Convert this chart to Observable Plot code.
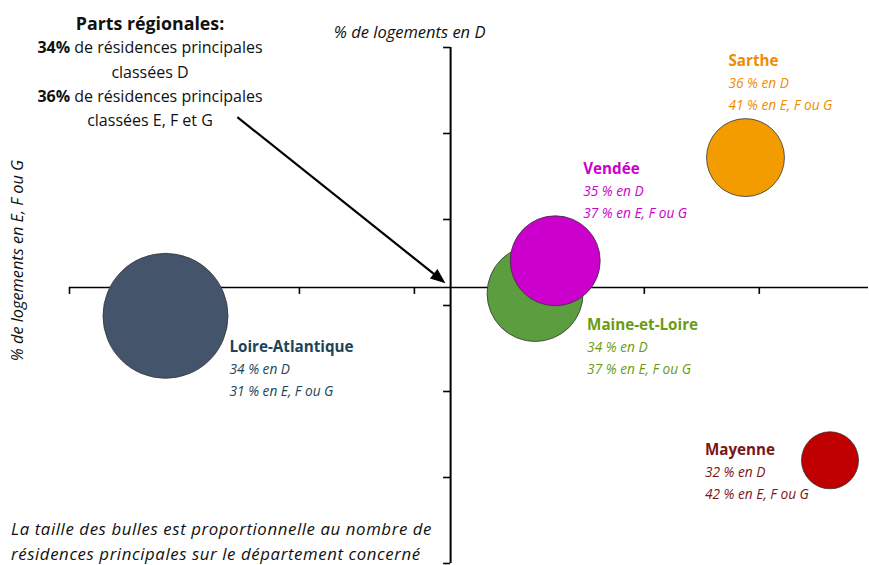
<!DOCTYPE html>
<html><head><meta charset="utf-8">
<script src="https://cdn.jsdelivr.net/npm/d3@7"></script>
<script src="https://cdn.jsdelivr.net/npm/@observablehq/plot@0.6"></script>
<style>
body{margin:0;background:#fff;font-family:"Open Sans",Lato,sans-serif;}
#wrap{position:relative;width:869px;height:565px;overflow:hidden;background:#fff;}
#box{position:absolute;left:10px;top:11px;width:280px;text-align:center;font-size:16px;line-height:24.3px;color:#111;}
#box .t{font-weight:bold;font-size:17.8px;}
#cap{position:absolute;left:11px;top:516px;font-style:italic;font-size:16.8px;letter-spacing:0.6px;line-height:25px;color:#111;white-space:nowrap;}
</style></head><body>
<div id="wrap"></div>
<script>
// ---- data ----
const departements = ["Loire-Atlantique", "Maine-et-Loire", "Vendée", "Sarthe", "Mayenne"];
const partEFG = [30.67, 37.10, 37.45, 40.76, 42.23];   // % de logements en E, F ou G
const partD   = [33.88, 34.14, 34.52, 35.72, 32.20];   // % de logements en D
const residences = [620, 366, 321, 241, 129];           // résidences principales (milliers)
const regionalEFG = 35.63;
const regionalD = 34.21;
const xTicks = [29, 31, 33, 35, 37, 39, 41];
const yTicks = [31, 32, 33, 34, 35, 36, 37];

// ---- styles ----
const fills = ["#44546a", "#5b9d3f", "#cc00cc", "#f29c00", "#c00000"];
const textColors = ["#1b4459", "#6a9c12", "#cc00cc", "#f08c00", "#7a1515"];
const labelDx = [64, 52, 28, -17, -125];
const labelDy = [31, 32, -92, -96, -10];

const W = 869, H = 565, mL = 69, mR = 1, mT = 47, mB = 2;
const xDomain = [29, 42.9], yDomain = [31, 37];
const kx = (W - mL - mR) / (xDomain[1] - xDomain[0]);
const ky = (H - mT - mB) / (yDomain[1] - yDomain[0]);

const rows = departements.map((name, i) => ({
  name, efg: partEFG[i], d: partD[i], res: residences[i], fill: fills[i], tc: textColors[i]
}));

// arrow (annotation) from the text box to the regional crossing point
const arrowFrom = {x: 31.92, y: 36.19};
const arrowTo = {x: 35.54, y: 34.26};
const pdx = (arrowTo.x - arrowFrom.x) * kx, pdy = -(arrowTo.y - arrowFrom.y) * ky;
const ang = Math.atan2(pdy, pdx), plen = Math.hypot(pdx, pdy);
const back = 10 / plen;
const arrowEnd = {x: arrowTo.x - (arrowTo.x - arrowFrom.x) * back, y: arrowTo.y - (arrowTo.y - arrowFrom.y) * back};
const headSymbol = {
  draw(ctx) {
    const c = Math.cos(ang), s = Math.sin(ang);
    const pts = [[0, 0], [-15, -6], [-15, 6]].map(([a, b]) => [a * c - b * s, a * s + b * c]);
    ctx.moveTo(pts[0][0], pts[0][1]);
    ctx.lineTo(pts[1][0], pts[1][1]);
    ctx.lineTo(pts[2][0], pts[2][1]);
    ctx.closePath();
  }
};

const FONT = "'Open Sans', Lato, sans-serif";
const tick = 7;
const marks = [
  Plot.ruleY([regionalD], {x1: xDomain[0], x2: xDomain[1], stroke: "#000", strokeWidth: 1.6}),
  Plot.ruleX(xTicks, {x: d => d, y1: regionalD, y2: regionalD - tick / ky, stroke: "#000", strokeWidth: 1.6}),
  Plot.ruleX([regionalEFG], {y1: yDomain[0], y2: yDomain[1], stroke: "#000", strokeWidth: 2}),
  Plot.ruleY(yTicks, {y: d => d, x1: regionalEFG - tick / kx, x2: regionalEFG, stroke: "#000", strokeWidth: 1.6}),
  Plot.link([{a: arrowFrom, b: arrowEnd}], {x1: d => d.a.x, y1: d => d.a.y, x2: d => d.b.x, y2: d => d.b.y, stroke: "#000", strokeWidth: 2.2}),
  Plot.dot([arrowTo], {x: "x", y: "y", symbol: headSymbol, r: 5, fill: "#000", stroke: "none"}),
  Plot.dot(rows, {x: "efg", y: "d", r: "res", fill: "fill", stroke: "#333", strokeWidth: 0.8, sort: null}),
  Plot.text(["% de logements en D"], {x: regionalEFG, y: yDomain[1], dx: -41, dy: -15, textAnchor: "middle", fontStyle: "italic", fontSize: 16.5, fill: "#111"}),
  Plot.text(["% de logements en E, F ou G"], {frameAnchor: "left", textAnchor: "middle", dx: -52, dy: -45, rotate: -90, fontStyle: "italic", fontSize: 16.3, fill: "#111"})
];
rows.forEach((r, i) => {
  const common = {x: "efg", y: "d", textAnchor: "start", fill: r.tc, dx: labelDx[i]};
  marks.push(Plot.text([r], {...common, text: "name", dy: labelDy[i], fontWeight: "bold", fontSize: 15.2}));
  marks.push(Plot.text([r], {...common, text: d => `${Math.round(d.d)} % en D`, dy: labelDy[i] + 22.5, fontStyle: "italic", fontSize: 13.7}));
  marks.push(Plot.text([r], {...common, text: d => `${Math.round(d.efg)} % en E, F ou G`, dy: labelDy[i] + 44.5, fontStyle: "italic", fontSize: 13.7}));
});

const chart = Plot.plot({
  width: W, height: H,
  marginLeft: mL, marginRight: mR, marginTop: mT, marginBottom: mB,
  x: {domain: xDomain, axis: null},
  y: {domain: yDomain, axis: null},
  r: {domain: [0, residences[0]], range: [0, 62.5]},
  color: {type: "identity"},
  style: {fontFamily: FONT, background: "white", overflow: "visible"},
  marks
});
const wrap = document.getElementById("wrap");
wrap.appendChild(chart);

const box = document.createElement("div");
box.id = "box";
box.innerHTML = `<div class="t">Parts régionales:</div>
<div><b>${Math.round(regionalD)}%</b> de résidences principales</div>
<div>classées D</div>
<div><b>${Math.round(regionalEFG)}%</b> de résidences principales</div>
<div>classées E, F et G</div>`;
wrap.appendChild(box);

const cap = document.createElement("div");
cap.id = "cap";
cap.innerHTML = "La taille des bulles est proportionnelle au nombre de<br>résidences principales sur le département concerné";
wrap.appendChild(cap);
</script>
</body></html>
